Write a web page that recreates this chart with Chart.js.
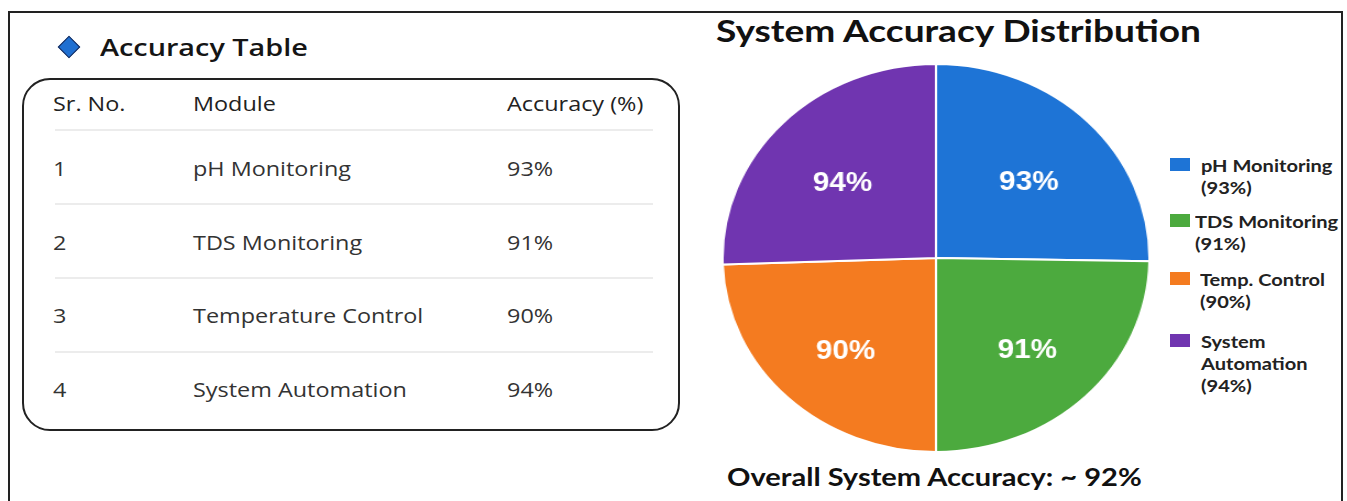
<!DOCTYPE html>
<html>
<head>
<meta charset="utf-8">
<script src="https://cdn.jsdelivr.net/npm/chart.js@4.4.1/dist/chart.umd.min.js"></script>
<style>
  html, body { margin: 0; padding: 0; background: #fff; }
  body { width: 1347px; height: 501px; position: relative; overflow: hidden; }
  .frame { position: absolute; left: 8px; top: 11px; width: 1331px; height: 520px; border: 2px solid #222; }
  .tbl-title { position: absolute; left: 100px; top: 30px; font: 600 24px "Open Sans", sans-serif; color: #151515; transform: scaleX(1.2); transform-origin: 0 50%; white-space: nowrap; }
  .diamond { position: absolute; left: 61px; top: 39px; width: 14px; height: 14px; background: #1f6fd1; border: 1.5px solid #1a2a55; transform: rotate(45deg); }
  .tbl { position: absolute; left: 22px; top: 78px; width: 654px; height: 349px; border: 2px solid #222; border-radius: 28px; }
  .cell { position: absolute; font: 400 20px "Open Sans", sans-serif; color: #333; transform: translateY(-50%) scaleX(1.17); transform-origin: 0 50%; white-space: nowrap; }
  .cell.head { color: #222; }
  .sep { position: absolute; left: 31px; width: 598px; height: 2px; background: #ececec; }
  .pie-title { position: absolute; left: 716px; top: 12px; font: 700 30px Lato, sans-serif; color: #111; transform: scaleX(1.235); transform-origin: 0 50%; white-space: nowrap; }
  .pie-wrap { position: absolute; left: 741px; top: 63px; width: 390px; height: 390px; transform: scaleX(1.1); transform-origin: 50% 50%; }
  .legend { position: absolute; left: 1170px; top: 0; }
  .leg-item { position: absolute; left: 0; width: 170px; font: 700 17px Lato, sans-serif; color: #222; line-height: 22px; }
  .leg-box { position: absolute; left: 0; top: 3px; width: 20px; height: 13px; }
  .leg-text { position: absolute; left: 31px; width: 125px; transform: scaleX(1.18); transform-origin: 0 0; }
  .footer { position: absolute; left: 727px; top: 462px; font: 700 24px Lato, sans-serif; color: #111; transform: scaleX(1.21); transform-origin: 0 50%; white-space: nowrap; }
</style>
</head>
<body>
<div class="frame"></div>
<div class="diamond"></div>
<div class="tbl-title">Accuracy Table</div>
<div class="tbl" id="tbl"></div>
<div class="pie-title">System Accuracy Distribution</div>
<div class="pie-wrap"><canvas id="pieChart" width="390" height="390"></canvas></div>
<div class="legend" id="legend"></div>
<div class="footer" id="footer"></div>
<script>
// table data
const headers = ['Sr. No.', 'Module', 'Accuracy (%)'];
const srNo = [1, 2, 3, 4];
const modules = ['pH Monitoring', 'TDS Monitoring', 'Temperature Control', 'System Automation'];
const accuracy = [93, 91, 90, 94];

// pie data
const pieLabels = ['pH Monitoring', 'TDS Monitoring', 'Temp. Control', 'System Automation'];
const pieColors = ['#1e74d6', '#4caa3e', '#f47b20', '#7035b0'];
const overall = 92;

// build the table
const tbl = document.getElementById('tbl');
const colX = [29, 169, 483];
const rowY = [23, 88, 162, 235, 309];
const sepY = [49, 123, 197, 271];

function addCell(text, x, y, cls) {
  const d = document.createElement('div');
  d.className = 'cell' + (cls ? ' ' + cls : '');
  d.style.left = x + 'px';
  d.style.top = y + 'px';
  d.textContent = text;
  tbl.appendChild(d);
}
headers.forEach((h, i) => addCell(h, colX[i], rowY[0], 'head'));
srNo.forEach((n, r) => {
  addCell(String(n), colX[0], rowY[r + 1]);
  addCell(modules[r], colX[1], rowY[r + 1]);
  addCell(accuracy[r] + '%', colX[2], rowY[r + 1]);
});
sepY.forEach(y => {
  const s = document.createElement('div');
  s.className = 'sep';
  s.style.top = y + 'px';
  tbl.appendChild(s);
});

// legend
const legend = document.getElementById('legend');
const legTop = [155, 211, 269, 331];
const legLeft = [31, 25, 30, 31];
pieLabels.forEach((lab, i) => {
  const item = document.createElement('div');
  item.className = 'leg-item';
  item.style.top = legTop[i] + 'px';
  item.innerHTML = '<div class="leg-box" style="background:' + pieColors[i] + '"></div>' +
    '<div class="leg-text" style="left:' + legLeft[i] + 'px">' + lab + '<br>(' + accuracy[i] + '%)</div>';
  legend.appendChild(item);
});

document.getElementById('footer').textContent = 'Overall System Accuracy: ~ ' + overall + '%';

// percentage labels inside the slices
const sliceLabels = {
  id: 'sliceLabels',
  afterDatasetsDraw(chart) {
    const ctx = chart.ctx;
    const meta = chart.getDatasetMeta(0);
    ctx.save();
    ctx.fillStyle = '#ffffff';
    ctx.font = 'bold 27px "Liberation Sans", Arial, sans-serif';
    ctx.textAlign = 'center';
    ctx.textBaseline = 'middle';
    meta.data.forEach((arc, i) => {
      const p = arc.getProps(['x', 'y', 'startAngle', 'endAngle', 'outerRadius'], true);
      const mid = (p.startAngle + p.endAngle) / 2;
      const r = p.outerRadius * 0.61;
      ctx.fillText(chart.data.datasets[0].data[i] + '%', p.x + Math.cos(mid) * r, p.y + Math.sin(mid) * r + 8);
    });
    ctx.restore();
  }
};

new Chart(document.getElementById('pieChart'), {
  type: 'pie',
  data: {
    labels: pieLabels,
    datasets: [{
      data: accuracy,
      backgroundColor: pieColors,
      borderColor: '#ffffff',
      borderWidth: 2,
      hoverOffset: 0
    }]
  },
  options: {
    responsive: false,
    animation: false,
    layout: { padding: 0 },
    plugins: {
      legend: { display: false },
      tooltip: { enabled: false },
      title: { display: false }
    }
  },
  plugins: [sliceLabels]
});
</script>
</body>
</html>
